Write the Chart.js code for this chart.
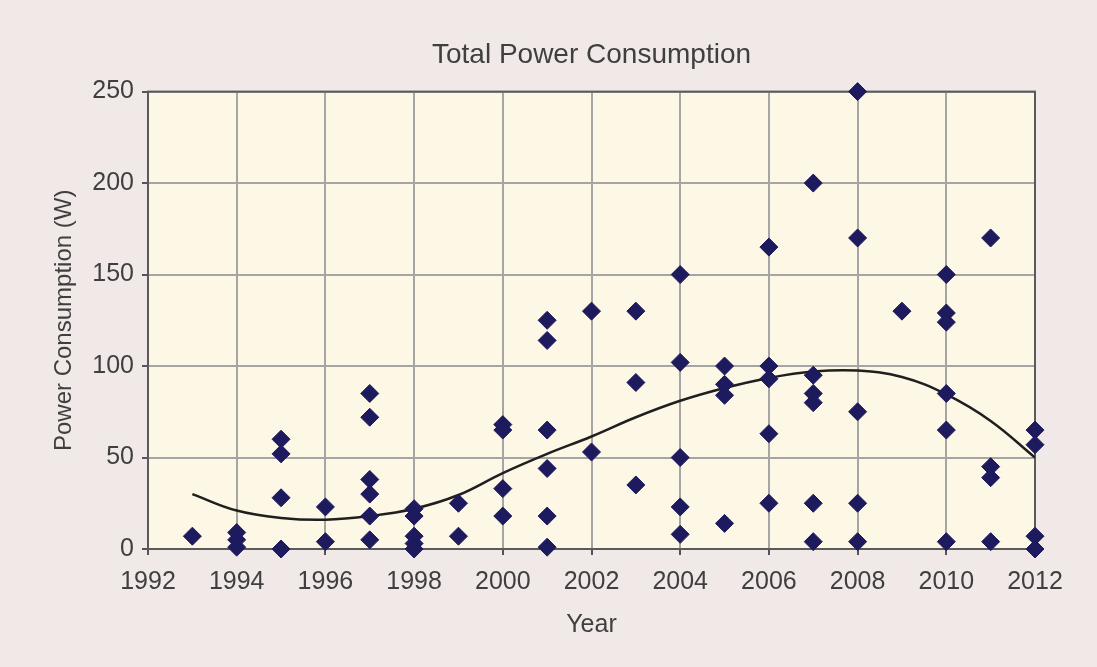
<!DOCTYPE html>
<html>
<head>
<meta charset="utf-8">
<title>Total Power Consumption</title>
<script src="https://cdn.jsdelivr.net/npm/chart.js@4/dist/chart.umd.min.js"></script>
<style>
  html, body { margin: 0; padding: 0; background: #f0e9e7; }
  #wrap { width: 1097px; height: 667px; }
</style>
</head>
<body>
<div id="wrap"><canvas id="powerChart" width="1097" height="667"></canvas></div>
<script>
// measured devices, grouped by year
const years = [1993, 1994, 1995, 1996, 1997, 1998, 1999, 2000, 2001, 2002,
               2003, 2004, 2005, 2006, 2007, 2008, 2009, 2010, 2011, 2012];
const readings = [
  [7],
  [9, 5, 1],
  [60, 52, 28, 0],
  [23, 4],
  [85, 72, 38, 30, 18, 5],
  [22, 18, 7, 3, 0],
  [25, 7],
  [68, 65, 33, 18],
  [125, 114, 65, 44, 18, 1],
  [130, 53],
  [130, 91, 35],
  [150, 102, 50, 23, 8],
  [100, 90, 84, 14],
  [165, 100, 93, 63, 25],
  [200, 95, 85, 80, 25, 4],
  [250, 170, 75, 25, 4],
  [130],
  [150, 129, 124, 85, 65, 4],
  [170, 45, 39, 4],
  [65, 57, 7, 0]
];

// trend line, one value per year
const trendYears = years;
const trendValues = [30, 21, 17, 16, 18, 22, 29.5, 41.5, 52, 61.5,
                     72, 81, 88, 93.5, 97, 97.5, 94, 84.5, 70, 50];

const xTicks = [1992, 1994, 1996, 1998, 2000, 2002, 2004, 2006, 2008, 2010, 2012];
const yTicks = [0, 50, 100, 150, 200, 250];

// flatten into scatter points
const points = [];
years.forEach((yr, i) => {
  readings[i].forEach(v => points.push({ x: yr, y: v }));
});
const trend = trendYears.map((yr, i) => ({ x: yr, y: trendValues[i] }));

const FONT = "'Liberation Sans', Arial, Helvetica, sans-serif";
const TEXT = '#3f3f3f';

// cream plot area plus dark frame
const plotFrame = {
  id: 'plotFrame',
  beforeDraw(chart) {
    const { ctx, chartArea: a } = chart;
    ctx.save();
    ctx.fillStyle = '#fdf8e6';
    ctx.fillRect(a.left, a.top, a.right - a.left, a.bottom - a.top);
    ctx.restore();
  },
  beforeDatasetsDraw(chart) {
    const { ctx, chartArea: a } = chart;
    ctx.save();
    ctx.strokeStyle = '#5a5a5a';
    ctx.lineWidth = 2;
    ctx.strokeRect(a.left, a.top, a.right - a.left, a.bottom - a.top);
    ctx.restore();
  }
};

const ctx = document.getElementById('powerChart').getContext('2d');
const powerChart = new Chart(ctx, {
  type: 'scatter',
  data: {
    datasets: [
      {
        label: 'Power',
        data: points,
        pointStyle: 'rectRot',
        pointRadius: 9,
        pointHoverRadius: 9,
        backgroundColor: '#1e1a5e',
        borderColor: '#1e1a5e',
        borderWidth: 1,
        clip: false,
        order: 0
      },
      {
        label: 'Trend',
        type: 'line',
        data: trend,
        showLine: true,
        pointRadius: 0,
        borderColor: '#1f1f1f',
        borderWidth: 2.5,
        tension: 0.4,
        fill: false,
        order: 1
      }
    ]
  },
  options: {
    responsive: false,
    animation: false,
    layout: { padding: { left: 0, right: 62, top: 0, bottom: 0 } },
    plugins: {
      legend: { display: false },
      tooltip: { enabled: false },
      title: {
        display: true,
        fullSize: false,
        text: 'Total Power Consumption',
        color: TEXT,
        font: { family: FONT, size: 28, weight: 'normal' },
        padding: { top: 38, bottom: 20 }
      }
    },
    scales: {
      x: {
        type: 'linear',
        min: 1992,
        max: 2012,
        afterBuildTicks: axis => { axis.ticks = xTicks.map(v => ({ value: v })); },
        afterFit: axis => { axis.height = 118; },
        ticks: {
          color: TEXT,
          font: { family: FONT, size: 25 },
          padding: 12,
          maxRotation: 0,
          callback: v => String(v)
        },
        grid: { color: '#a5a5a5', lineWidth: 2, tickColor: '#555', tickLength: 6, tickWidth: 2 },
        border: { color: '#5a5a5a', width: 2 },
        title: {
          display: true,
          text: 'Year',
          color: TEXT,
          font: { family: FONT, size: 25 },
          padding: { top: 0, bottom: 27 }
        }
      },
      y: {
        min: 0,
        max: 250,
        afterBuildTicks: axis => { axis.ticks = yTicks.map(v => ({ value: v })); },
        afterFit: axis => { axis.width = 148; },
        ticks: {
          color: TEXT,
          font: { family: FONT, size: 25 },
          padding: 8
        },
        grid: { color: '#a5a5a5', lineWidth: 2, tickColor: '#555', tickLength: 6, tickWidth: 2 },
        border: { color: '#5a5a5a', width: 2 },
        title: {
          display: true,
          text: 'Power Consumption (W)',
          color: TEXT,
          font: { family: FONT, size: 24 },
          padding: { top: 50, bottom: 0 }
        }
      }
    }
  },
  plugins: [plotFrame]
});
</script>
</body>
</html>
